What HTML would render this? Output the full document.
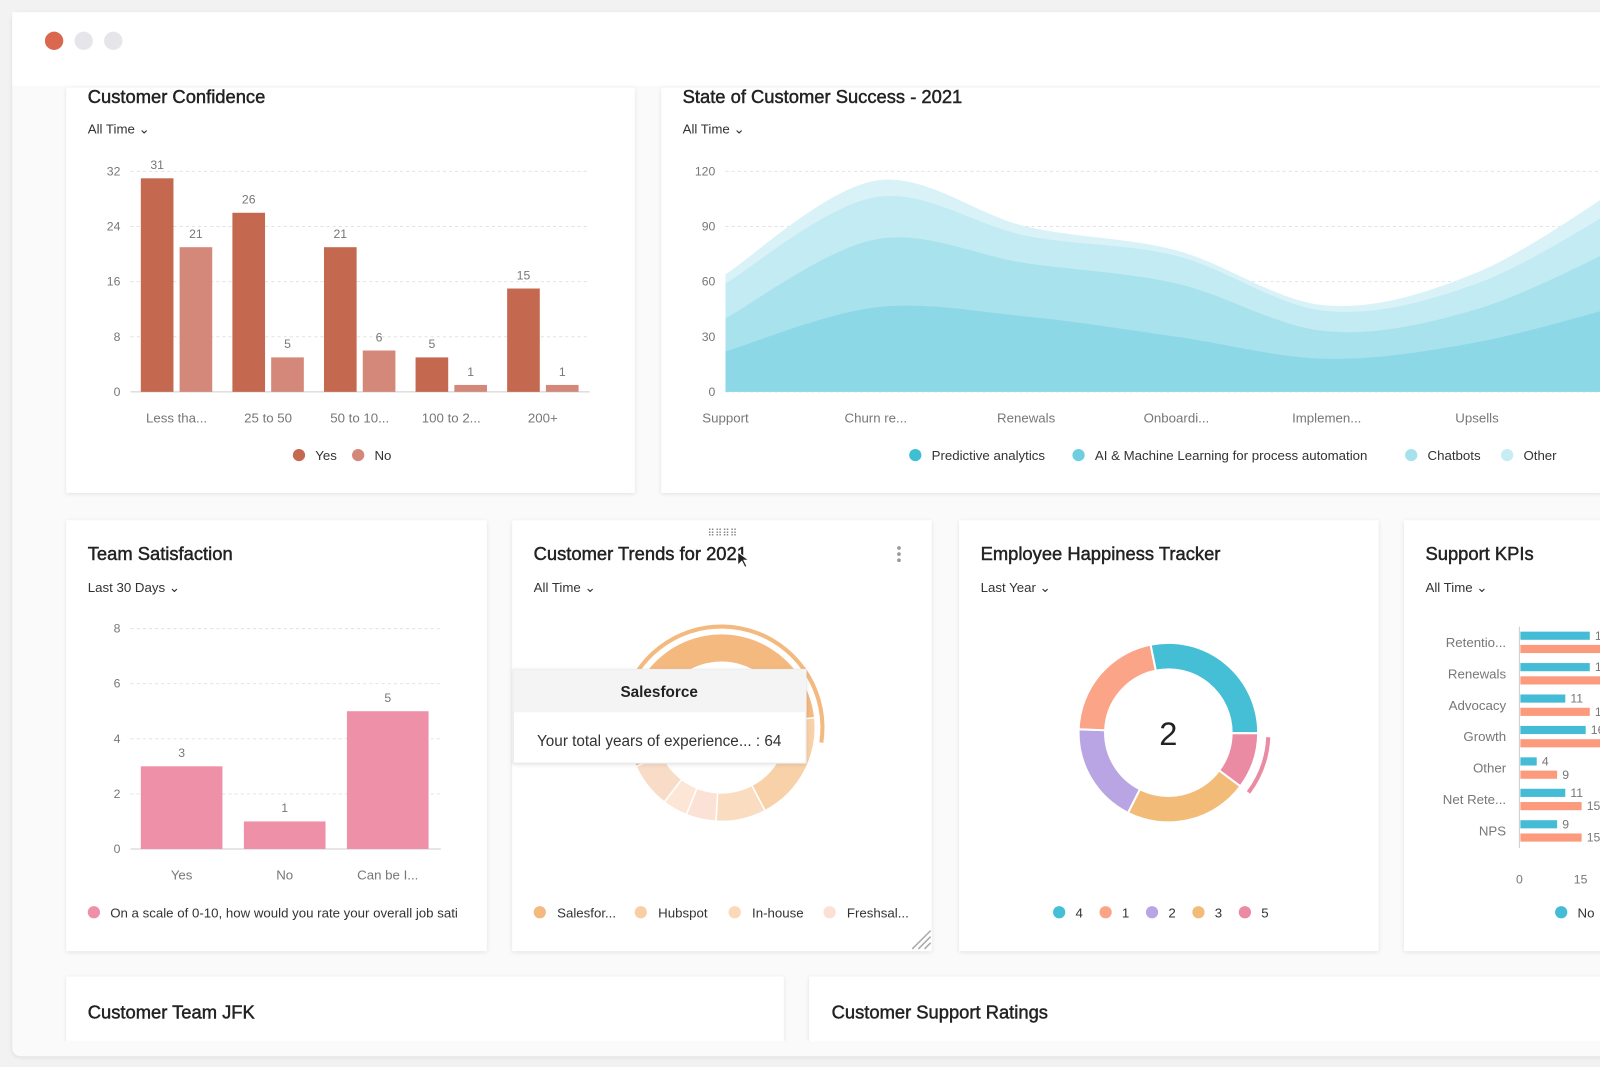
<!DOCTYPE html>
<html><head><meta charset="utf-8"><style>
html,body{margin:0;padding:0;background:#f2f2f2;width:1600px;height:1067px;overflow:hidden}
svg{display:block;font-family:"Liberation Sans",sans-serif}
.t{font-size:18px;fill:#222;stroke:#222;stroke-width:0.45}
.f{font-size:13px;fill:#333}
.tk{font-size:12px;fill:#777}
.lg{font-size:13px;fill:#333}
</style></head><body>
<svg id="s" width="1600" height="1067" viewBox="0 0 1600 1067">
<defs>
<filter id="sh" x="-5%" y="-5%" width="110%" height="110%"><feDropShadow dx="0" dy="1" stdDeviation="2" flood-color="#000" flood-opacity="0.10"/></filter>
<clipPath id="win"><rect x="12" y="12" width="1556" height="1008"/></clipPath>
<clipPath id="cardA"><rect x="65" y="510" width="412" height="422"/></clipPath>
</defs>
<g transform="scale(1.0204)">
<rect x="12" y="12" width="1600" height="1023" rx="8" fill="#fafafa" filter="url(#sh)"/>
<rect x="12" y="12" width="1600" height="72" fill="#fff"/>
<circle cx="53" cy="40" r="9" fill="#d9684f"/>
<circle cx="82" cy="40" r="9" fill="#e6e6ea"/>
<circle cx="111" cy="40" r="9" fill="#e6e6ea"/>
<g clip-path="url(#win)">
<rect x="65" y="86" width="557" height="397" fill="#fff" filter="url(#sh)"/>
<rect x="648" y="86" width="970" height="397" fill="#fff" filter="url(#sh)"/>
<rect x="65" y="510" width="412" height="422" fill="#fff" filter="url(#sh)"/>
<rect x="502" y="510" width="411" height="422" fill="#fff" filter="url(#sh)"/>
<rect x="940" y="510" width="411" height="422" fill="#fff" filter="url(#sh)"/>
<rect x="1376" y="510" width="260" height="422" fill="#fff" filter="url(#sh)"/>
<rect x="65" y="957" width="703" height="90" fill="#fff" filter="url(#sh)"/>
<rect x="793" y="957" width="830" height="90" fill="#fff" filter="url(#sh)"/>

<text x="86" y="101" class="t">Customer Confidence</text>
<text x="86" y="131" class="f">All Time ⌄</text>
<text x="669" y="101" class="t">State of Customer Success - 2021</text>
<text x="669" y="131" class="f">All Time ⌄</text>
<text x="86" y="549" class="t">Team Satisfaction</text>
<text x="86" y="580" class="f">Last 30 Days ⌄</text>
<text x="523" y="549" class="t">Customer Trends for 2021</text>
<text x="523" y="580" class="f">All Time ⌄</text>
<text x="708" y="526" font-size="10" fill="#888" text-anchor="middle">⠿⠿⠿⠿</text>
<g fill="#999"><circle cx="881" cy="537" r="1.8"/><circle cx="881" cy="543" r="1.8"/><circle cx="881" cy="549" r="1.8"/></g>
<text x="961" y="549" class="t">Employee Happiness Tracker</text>
<text x="961" y="580" class="f">Last Year ⌄</text>
<text x="1397" y="549" class="t">Support KPIs</text>
<text x="1397" y="580" class="f">All Time ⌄</text>
<text x="86" y="998" class="t">Customer Team JFK</text>
<text x="815" y="998" class="t">Customer Support Ratings</text>
<path d="M894 930 L912 912 M900 930 L912 918 M906 930 L912 924" stroke="#aaa" stroke-width="1.5"/>
<g id="g1"></g><g id="g2"></g><g id="g3" clip-path="url(#cardA)"></g><g id="g4"></g><g id="g5"></g><g id="g6"></g>
</g>
</g>
</svg>
<script>
// ---- Customer Confidence ----
const ccCats=["Less tha...","25 to 50","50 to 10...","100 to 2...","200+"];
const ccYes=[31,26,21,5,15];
const ccNo=[21,5,6,1,1];
const ccTicks=[0,8,16,24,32];
// ---- State of Customer Success ----
const csCats=["Support","Churn re...","Renewals","Onboardi...","Implemen...","Upsells","P..."];
const csPredictive=[22,46,41,30,18,27,48];
const csAI=[18,37,29,29,15,18,33];
const csChatbots=[19,23,15,15,11,14,22];
const csOther=[5,9,5,3,3,6,11];
const csTicks=[0,30,60,90,120];
// ---- Team Satisfaction ----
const tsCats=["Yes","No","Can be I..."];
const tsVals=[3,1,5];
const tsTicks=[0,2,4,6,8];
// ---- Customer Trends donut ----
const ctLabels=["Salesforce","Hubspot","In-house","Freshsales","Other A","Other B"];
const ctVals=[64,22,10,6,5,9];
// ---- Employee Happiness donut ----
const ehLabels=["4","5","3","2","1"];
const ehVals=[28,10,22,18,21];
// ---- Support KPIs ----
const kpCats=["Retentio...","Renewals","Advocacy","Growth","Other","Net Rete...","NPS"];
const kpNo=[17,17,11,16,4,11,9];
const kpYes=[22,22,17,22,9,15,15];

const NS="http://www.w3.org/2000/svg";
function mk(p,tag,at,txt){const e=document.createElementNS(NS,tag);for(const k in at)e.setAttribute(k,at[k]);if(txt!=null)e.textContent=txt;p.appendChild(e);return e;}

// Chart 1
(function(){
const g=document.getElementById('g1');
const y=v=>384-v*6.75, x=i=>173+i*89.75;
ccTicks.forEach(t=>{const l=mk(g,'line',{x1:128,x2:578,y1:y(t),y2:y(t),stroke:t?'#e2e2e2':'#ccc','stroke-dasharray':t?'3 3':''});

const tx=mk(g,'text',{x:118,y:y(t)+4,'text-anchor':'end',class:'tk'},t);
});
ccCats.forEach((c,i)=>{
 const b=mk(g,'rect',{x:x(i)-35,y:y(ccYes[i]),width:32,height:ccYes[i]*6.75,fill:'#c4694f'});
 
 const b2=mk(g,'rect',{x:x(i)+3,y:y(ccNo[i]),width:32,height:ccNo[i]*6.75,fill:'#d4887a'});
 
 const a=mk(g,'text',{x:x(i)-19,y:y(ccYes[i])-9,'text-anchor':'middle',class:'tk'},ccYes[i]);
 
 const b3=mk(g,'text',{x:x(i)+19,y:y(ccNo[i])-9,'text-anchor':'middle',class:'tk'},ccNo[i]);
 
 const l=mk(g,'text',{x:x(i),y:414,'text-anchor':'middle',class:'tk',style:'font-size:13px'},c);
 
});
const le=mk(g,'g',{});
mk(le,'circle',{cx:293,cy:446,r:6,fill:'#c4694f'});mk(le,'text',{x:309,y:451,class:'lg'},'Yes');
mk(le,'circle',{cx:351,cy:446,r:6,fill:'#d4887a'});mk(le,'text',{x:367,y:451,class:'lg'},'No');
})();

// Chart 2
function smooth(pts){let d='M'+pts[0][0]+','+pts[0][1];for(let i=0;i<pts.length-1;i++){const p0=pts[i-1]||pts[i],p1=pts[i],p2=pts[i+1],p3=pts[i+2]||p2;
d+=' C'+(p1[0]+(p2[0]-p0[0])/6)+','+(p1[1]+(p2[1]-p0[1])/6)+' '+(p2[0]-(p3[0]-p1[0])/6)+','+(p2[1]-(p3[1]-p1[1])/6)+' '+p2[0]+','+p2[1];}return d;}
(function(){
const g=document.getElementById('g2');
const y=v=>384-v*1.8, x=i=>711+i*147.3;
csTicks.forEach(t=>{const l=mk(g,'line',{x1:711,x2:1600,y1:y(t),y2:y(t),stroke:'#e2e2e2','stroke-dasharray':'3 3'});

const tx=mk(g,'text',{x:701,y:y(t)+4,'text-anchor':'end',class:'tk'},t);
});
const series=[csPredictive,csAI,csChatbots,csOther];
const cols=['#8dd8e7','#a8e2ed','#c3ebf3','#d9f2f7'];
const names=['cs-area-predictive','cs-area-ai','cs-area-chatbots','cs-area-other'];
const cum=[];let base=csCats.map(()=>0);
series.forEach(s=>{base=base.map((b,i)=>b+s[i]);cum.push(base.slice());});
for(let k=3;k>=0;k--){const pts=cum[k].map((v,i)=>[x(i),y(v)]);
 const p=mk(g,'path',{d:smooth(pts)+' L'+x(6)+','+y(0)+' L'+x(0)+','+y(0)+' Z',fill:cols[k]});
 }
csCats.forEach((c,i)=>{const l=mk(g,'text',{x:x(i),y:414,'text-anchor':'middle',class:'tk',style:'font-size:13px'},c);
 });
const le=mk(g,'g',{});
const items=[['Predictive analytics',897,'#3fbfd4'],['AI & Machine Learning for process automation',1057,'#6fcfe0'],['Chatbots',1383,'#a7e2ec'],['Other',1477,'#c6ecf4']];
items.forEach(it=>{mk(le,'circle',{cx:it[1],cy:446,r:6,fill:it[2]});mk(le,'text',{x:it[1]+16,y:451,class:'lg'},it[0]);});
})();

// Chart 3
(function(){
const g=document.getElementById('g3');
const y=v=>832-v*27, x=i=>178+i*101;
tsTicks.forEach(t=>{const l=mk(g,'line',{x1:128,x2:432,y1:y(t),y2:y(t),stroke:t?'#e4e4e4':'#ccc','stroke-dasharray':t?'3 3':''});

const tx=mk(g,'text',{x:118,y:y(t)+4,'text-anchor':'end',class:'tk'},t);
});
tsCats.forEach((c,i)=>{const b=mk(g,'rect',{x:x(i)-40,y:y(tsVals[i]),width:80,height:tsVals[i]*27,fill:'#ee90a8'});

const v=mk(g,'text',{x:x(i),y:y(tsVals[i])-9,'text-anchor':'middle',class:'tk'},tsVals[i]);

const l=mk(g,'text',{x:x(i),y:862,'text-anchor':'middle',class:'tk',style:'font-size:13px'},c);
});
const le=mk(g,'g',{});
mk(le,'circle',{cx:92,cy:894,r:6,fill:'#ee90a8'});
mk(le,'text',{x:108,y:899,class:'lg'},'On a scale of 0-10, how would you rate your overall job sati');
})();

function arc(cx,cy,r0,r1,a0,a1){const p=(r,a)=>[cx+r*Math.sin(a),cy-r*Math.cos(a)];const lg=(a1-a0)>Math.PI?1:0;
const A=p(r1,a0),B=p(r1,a1),C=p(r0,a1),D=p(r0,a0);
return `M${A} A${r1},${r1} 0 ${lg} 1 ${B} L${C} A${r0},${r0} 0 ${lg} 0 ${D} Z`;}

// Chart 4 donut
(function(){
const g=document.getElementById('g4');
const cols=['#f3b97f','#f8d1a9','#fadcc0','#fbe1d6','#fde6d6','#f9dcc8'];
const tot=ctVals.reduce((a,b)=>a+b,0);let a=-2.0;
ctVals.forEach((v,i)=>{const a1=a+v/tot*2*Math.PI;
 const p=mk(g,'path',{d:arc(707,713,64,92,a,a1),fill:cols[i],stroke:'#fff','stroke-width':1.5});
 a=a1;});
const h=mk(g,'path',{d:arc(707,713,97,101,-1.0,1.72),fill:'#f3b97f'});

const tt=mk(g,'g',{filter:'url(#sh)'});
mk(tt,'rect',{x:503,y:656,width:287,height:92,fill:'#fff',stroke:'#e6e6e6'});
mk(tt,'rect',{x:503,y:656,width:287,height:42,fill:'#f4f4f5'});
mk(tt,'text',{x:646,y:683,'text-anchor':'middle',style:'font-size:15px;font-weight:bold;fill:#222'},'Salesforce');
mk(tt,'text',{x:646,y:731,'text-anchor':'middle',style:'font-size:15px;fill:#333'},'Your total years of experience... : 64');
const le=mk(g,'g',{});
[['Salesfor...',529,'#f3b97f'],['Hubspot',628,'#f8cfa4'],['In-house',720,'#fad8b8'],['Freshsal...',813,'#fbe0d3']].forEach(it=>{
 mk(le,'circle',{cx:it[1],cy:894,r:6,fill:it[2]});mk(le,'text',{x:it[1]+17,y:899,class:'lg'},it[0]);});
mk(g,'path',{d:'M723 541 l0 13 l4 -4 l3 6 l2 -1 l-3 -6 l5 0 z',fill:'#222',stroke:'#fff','stroke-width':1});
})();

// Chart 5 donut
(function(){
const g=document.getElementById('g5');
const cols=['#45bfd6','#ea8aa3','#f2bb78','#b9a5e3','#fba487'];
const tot=ehVals.reduce((a,b)=>a+b,0);let a=-0.2;
ehVals.forEach((v,i)=>{const a1=a+v/tot*2*Math.PI;
 const p=mk(g,'path',{d:arc(1145,718,62,88,a,a1),fill:cols[i],stroke:'#fff','stroke-width':2});
 
 if(i==1){const h=mk(g,'path',{d:arc(1145,718,96,100,a+0.04,a1),fill:cols[i]});}
 a=a1;});
const c=mk(g,'text',{x:1145,y:730,'text-anchor':'middle',style:'font-size:32px;fill:#222'},'2');

const le=mk(g,'g',{});
const order=[0,4,3,2,1];
order.forEach((k,j)=>{const cx=1038+j*45.5;mk(le,'circle',{cx:cx,cy:894,r:6,fill:cols[k]});mk(le,'text',{x:cx+16,y:899,class:'lg'},ehLabels[k]);});
})();

// Chart 6 KPIs
(function(){
const g=document.getElementById('g6');
const x=v=>1489+v*4, y=i=>623+i*30.8;
mk(g,'line',{x1:1489,x2:1489,y1:614,y2:831,stroke:'#ccc'});
kpCats.forEach((c,i)=>{
 const l=mk(g,'text',{x:1476,y:y(i)+11,'text-anchor':'end',class:'tk',style:'font-size:13px'},c);
 
 const b=mk(g,'rect',{x:1490,y:y(i)-4,width:kpNo[i]*4,height:8,fill:'#45bcd6'});
 
 const b2=mk(g,'rect',{x:1490,y:y(i)+9,width:kpYes[i]*4,height:8,fill:'#fb9a7d'});
 
 const v=mk(g,'text',{x:x(kpNo[i])+6,y:y(i)+4,class:'tk'},kpNo[i]);
 
 const v2=mk(g,'text',{x:x(kpYes[i])+6,y:y(i)+17,class:'tk'},kpYes[i]);
 
});
[0,15,30].forEach(t=>{const tx=mk(g,'text',{x:x(t),y:866,'text-anchor':'middle',class:'tk'},t);
 });
const le=mk(g,'g',{});
mk(le,'circle',{cx:1530,cy:894,r:6,fill:'#45bcd6'});mk(le,'text',{x:1546,y:899,class:'lg'},'No');
})();
</script>
</body></html>
